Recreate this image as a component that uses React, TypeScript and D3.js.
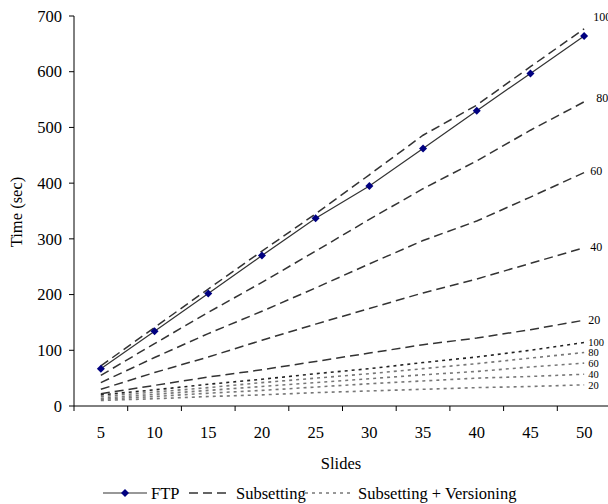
import React from 'react';
import * as d3 from 'd3';

const slides = [5, 10, 15, 20, 25, 30, 35, 40, 45, 50];
const yTicks = [0, 100, 200, 300, 400, 500, 600, 700];

const ftp = [67, 134, 202, 270, 337, 395, 462, 530, 597, 664];

// Subsetting, by percentage label
const sub100 = [72, 141, 210, 278, 345, 415, 486, 540, 609, 677];
const sub80 = [55, 112, 168, 222, 278, 335, 390, 440, 495, 546];
const sub60 = [42, 87, 130, 170, 212, 255, 297, 332, 375, 419];
const sub40 = [30, 60, 88, 118, 147, 175, 203, 228, 256, 284];
const sub20 = [22, 37, 52, 65, 80, 95, 110, 122, 137, 154];

// Subsetting + Versioning
const ver100 = [20, 29, 39, 48, 58, 67, 78, 88, 100, 114];
const ver80 = [17, 25, 33, 42, 50, 58, 67, 76, 86, 96];
const ver60 = [14, 21, 28, 35, 42, 49, 56, 62, 70, 77];
const ver40 = [12, 17, 23, 28, 34, 40, 45, 50, 53, 57];
const ver20 = [10, 13, 17, 20, 24, 27, 30, 33, 35, 38];

const subSeries = [
  { label: '100', values: sub100, dx: 9, dy: -12 },
  { label: '80', values: sub80, dx: 12, dy: -4 },
  { label: '60', values: sub60, dx: 6, dy: -2 },
  { label: '40', values: sub40, dx: 6, dy: -1 },
  { label: '20', values: sub20, dx: 4, dy: 0 },
];
const verSeries = [
  { label: '100', values: ver100, color: '#222' },
  { label: '80', values: ver80, color: '#777' },
  { label: '60', values: ver60, color: '#777' },
  { label: '40', values: ver40, color: '#777' },
  { label: '20', values: ver20, color: '#777' },
];

const font = '"Liberation Serif", "Times New Roman", serif';
const fs = 16.5;

export default function App() {
  const x = d3.scaleBand<number>().domain(slides).range([74, 611]).padding(0);
  const y = d3.scaleLinear().domain([0, 700]).range([406, 16]);
  const cx = (d: number) => (x(d) ?? 0) + x.bandwidth() / 2;

  const line = (vals: number[]) =>
    d3.line<number>().x((_, i) => cx(slides[i])).y((v) => y(v))(vals) ?? '';

  const tickXs = slides.map((s) => x(s) ?? 0).concat([(x(50) ?? 0) + x.bandwidth()]);
  const last = slides[slides.length - 1];

  const diamond = (px: number, py: number, r = 4) =>
    `M${px},${py - r}L${px + r},${py}L${px},${py + r}L${px - r},${py}Z`;

  const ly = 493;

  return (
    <svg width={608} height={504} style={{ position: 'absolute', left: 0, top: 0 }}>
      <rect width={608} height={504} fill="#fff" />

      {/* axes */}
      <line x1={74} x2={74} y1={y(700)} y2={y(0)} stroke="#000" />
      <line x1={74} x2={611} y1={y(0)} y2={y(0)} stroke="#000" />
      {yTicks.map((t) => (
        <g key={t}>
          <line x1={69} x2={74} y1={y(t)} y2={y(t)} stroke="#000" />
          <text x={62} y={y(t)} dy="0.35em" textAnchor="end" fontFamily={font} fontSize={fs} fill="#000">
            {t}
          </text>
        </g>
      ))}
      {tickXs.map((tx, i) => (
        <line key={i} x1={tx} x2={tx} y1={y(0)} y2={y(0) + 5} stroke="#000" />
      ))}
      {slides.map((s) => (
        <text key={s} x={cx(s)} y={438} textAnchor="middle" fontFamily={font} fontSize={fs} fill="#000">
          {s}
        </text>
      ))}
      <text x={341} y={469} textAnchor="middle" fontFamily={font} fontSize={fs} fill="#000">
        Slides
      </text>
      <text
        transform="translate(22,212) rotate(-90)"
        textAnchor="middle"
        fontFamily={font}
        fontSize={fs}
        fill="#000"
      >
        Time (sec)
      </text>

      {/* versioning lines */}
      {verSeries.map((s) => (
        <g key={'v' + s.label}>
          <path d={line(s.values)} fill="none" stroke={s.color} strokeWidth={1.6} strokeDasharray="3,4" />
          <text
            x={cx(last) + 4}
            y={y(s.values[s.values.length - 1])}
            dy="0.35em"
            fontFamily={font}
            fontSize={10.5}
            fill="#000"
          >
            {s.label}
          </text>
        </g>
      ))}

      {/* subsetting lines */}
      {subSeries.map((s) => (
        <g key={'s' + s.label}>
          <path d={line(s.values)} fill="none" stroke="#333" strokeWidth={1.5} strokeDasharray="9,5" />
          <text
            x={cx(last) + s.dx}
            y={y(s.values[s.values.length - 1]) + s.dy}
            dy="0.35em"
            fontFamily={font}
            fontSize={12}
            fill="#000"
          >
            {s.label}
          </text>
        </g>
      ))}

      {/* FTP */}
      <path d={line(ftp)} fill="none" stroke="#333" strokeWidth={1.2} />
      {ftp.map((v, i) => (
        <path key={i} d={diamond(cx(slides[i]), y(v))} fill="#000080" />
      ))}

      {/* legend */}
      <g fontFamily={font} fontSize={fs} fill="#000">
        <line x1={103} x2={147} y1={ly} y2={ly} stroke="#333" strokeWidth={1.2} />
        <path d={diamond(125, ly)} fill="#000080" />
        <text x={151} y={ly} dy="0.35em">FTP</text>
        <line x1={189} x2={230} y1={ly} y2={ly} stroke="#333" strokeWidth={1.5} strokeDasharray="9,5" />
        <text x={236} y={ly} dy="0.35em">Subsetting</text>
        <line x1={305} x2={354} y1={ly} y2={ly} stroke="#777" strokeWidth={1.6} strokeDasharray="3,4" />
        <text x={358} y={ly} dy="0.35em">Subsetting + Versioning</text>
      </g>
    </svg>
  );
}
